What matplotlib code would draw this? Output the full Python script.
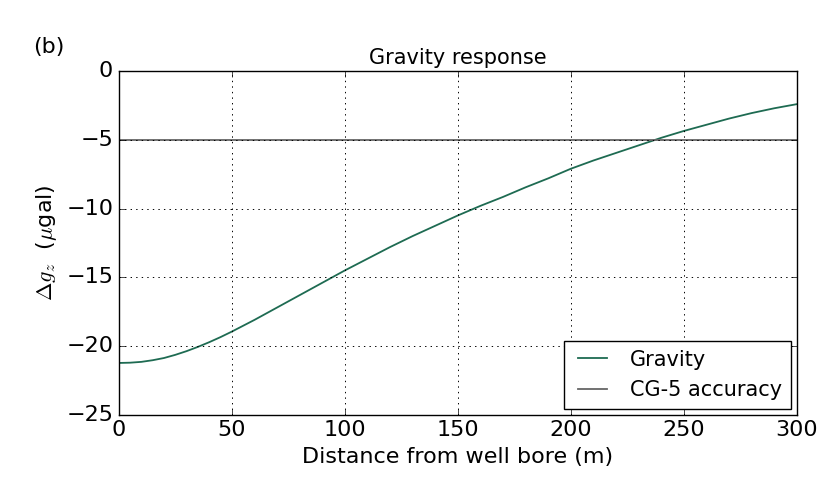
import matplotlib
matplotlib.use("Agg")
import matplotlib.pyplot as plt

plt.style.use("classic")
plt.rcParams["mathtext.fontset"] = "cm"
plt.rcParams["font.family"] = "DejaVu Sans"

# distance from well bore (m) and gravity change (microgal)
distance = [0, 5, 10, 15, 20, 25, 30, 35, 40, 45, 50, 60, 70, 80, 90, 100, 110, 120,
            130, 140, 150, 160, 170, 180, 190, 200, 210, 220, 230, 240, 250, 260,
            270, 280, 290, 300]
gravity = [-21.23, -21.21, -21.15, -21.03, -20.87, -20.64, -20.37, -20.06, -19.72,
           -19.35, -18.95, -18.1, -17.2, -16.3, -15.4, -14.5, -13.65, -12.8, -12.0,
           -11.25, -10.5, -9.8, -9.15, -8.45, -7.8, -7.1, -6.5, -5.95, -5.4, -4.85,
           -4.35, -3.9, -3.45, -3.05, -2.7, -2.4]
accuracy = -5

fig = plt.figure(figsize=(8.19, 4.84), dpi=100, facecolor="white")
ax = fig.add_axes([0.145, 0.143, 0.828, 0.71])

ax.plot(distance, gravity, color="#1e6b52", lw=1.3, label="Gravity")
ax.axhline(accuracy, color="#666666", lw=1.3, label="CG-5 accuracy")

ax.set_xlim(0, 300)
ax.set_ylim(-25, 0)
ax.set_xticks([0, 50, 100, 150, 200, 250, 300])
ax.set_yticks([-25, -20, -15, -10, -5, 0])
ax.tick_params(labelsize=16)
ax.grid(True, color="k", linestyle=":", lw=0.7)

ax.set_title("Gravity response", fontsize=15)
ax.set_xlabel("Distance from well bore (m)", fontsize=16)
ax.set_ylabel(r"$\Delta g_z$  ($\mu$gal)", fontsize=16)

leg = ax.legend(loc="lower right", fontsize=15, fancybox=False, handlelength=2,
                borderaxespad=0.3)
leg.get_frame().set_edgecolor("black")

fig.text(0.04, 0.89, "(b)", fontsize=16)

fig.savefig("out.png", dpi=100, facecolor="white")
